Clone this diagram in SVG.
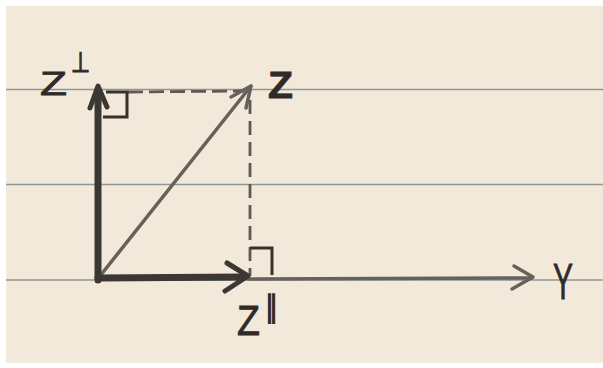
<svg xmlns="http://www.w3.org/2000/svg" width="603" height="368" viewBox="0 0 603 368">
  <style>
    .rule { stroke: #8e9696; stroke-width: 1.6; fill: none; }
    .thick { stroke: #3b3733; stroke-width: 7; fill: none; stroke-linecap: round; stroke-linejoin: round; }
    .thickhead { stroke: #3b3733; stroke-width: 5; fill: none; stroke-linecap: round; stroke-linejoin: round; }
    .thin { stroke: #67615b; stroke-width: 3.5; fill: none; stroke-linecap: round; stroke-linejoin: round; }
    .dash { stroke: #5e5954; stroke-width: 2.8; fill: none; }
    .mark { stroke: #35312d; stroke-width: 3; fill: none; stroke-linejoin: miter; }
    .lbl { font-family: "Liberation Sans", "DejaVu Sans", sans-serif; fill: #2f2b28; stroke: #2f2b28; stroke-width: 0.8; }
    .sym { font-family: "DejaVu Sans", sans-serif; fill: #2f2b28; stroke: #2f2b28; stroke-width: 1.2; }
  </style>
  <rect x="0" y="0" width="603" height="368" fill="#ffffff"/>
  <rect x="6" y="6" width="597" height="357" fill="#f3e9da"/>
  <g id="rules">
    <line class="rule" x1="6" y1="89.5" x2="603" y2="89.5"/>
    <line class="rule" x1="6" y1="184.5" x2="603" y2="184.5"/>
    <line class="rule" x1="6" y1="280" x2="603" y2="280"/>
  </g>
  <g id="connectors">
    <line class="dash" x1="128" y1="92" x2="244" y2="91" stroke-dasharray="15 6"/>
    <line class="dash" x1="250" y1="100" x2="250" y2="276" stroke-dasharray="14 7" stroke-width="2.4"/>
    <line class="thin" x1="248" y1="279" x2="532" y2="278" stroke-width="4"/>
    <polyline class="thin" points="514,266 533,277 512,289"/>
    <line class="thin" x1="100" y1="276" x2="251" y2="86"/>
    <polyline class="thin" points="231,97 251,86 246,108"/>
    <line class="thick" x1="98" y1="280" x2="98" y2="90"/>
    <polyline class="thickhead" points="90,108 98,86 107,107"/>
    <line class="thick" x1="98" y1="278" x2="244" y2="277"/>
    <polyline class="thickhead" points="227,263 248,276 225,291"/>
    <polyline class="mark" points="106,92 127,92 127,117 103,117"/>
    <polyline class="mark" points="250,248 272,248 272,275"/>
  </g>
  <g id="node-z-perp">
    <text class="lbl" x="40" y="95" font-size="34" textLength="27" lengthAdjust="spacingAndGlyphs">Z</text>
    <text class="sym" x="71" y="72" font-size="28" textLength="19" lengthAdjust="spacingAndGlyphs">⊥</text>
  </g>
  <g id="node-z">
    <text class="lbl" x="268" y="98" font-size="36" font-weight="bold" textLength="25" lengthAdjust="spacingAndGlyphs">Z</text>
  </g>
  <g id="node-z-par">
    <text class="lbl" x="237" y="335" font-size="43" textLength="23" lengthAdjust="spacingAndGlyphs">Z</text>
    <text class="sym" x="265" y="317" font-size="30" textLength="13" lengthAdjust="spacingAndGlyphs" stroke-width="0.9">∥</text>
  </g>
  <g id="node-y">
    <text class="lbl" x="553" y="299" font-size="50" textLength="20" lengthAdjust="spacingAndGlyphs" stroke-width="1.6">Y</text>
  </g>
</svg>
